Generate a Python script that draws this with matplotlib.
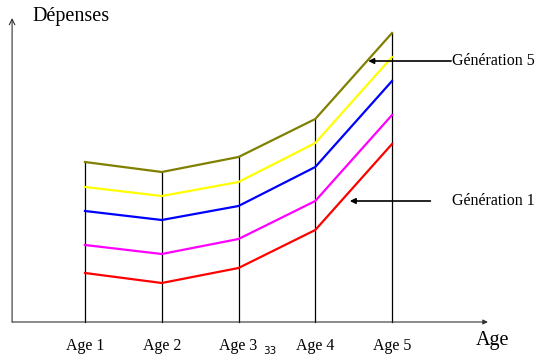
import matplotlib.pyplot as plt

# ==========================================================
# DATA (Dépenses by age, one series per generation)
# ==========================================================

ages = [1, 2, 3, 4, 5]
age_labels = ["Age 1", "Age 2", "Age 3", "Age 4", "Age 5"]

gen1 = [49, 39, 54, 92, 178]
gen2 = [77, 68, 83, 121, 207]
gen3 = [111, 102, 116, 155, 241]
gen4 = [135, 126, 140, 179, 265]
gen5 = [160, 150, 165, 203, 289]

series = [gen1, gen2, gen3, gen4, gen5]
colors = ["#ff0000", "#ff00ff", "#0000ff", "#ffff00", "#808000"]

# ==========================================================
# FIGURE
# ==========================================================

plt.rcParams["font.family"] = ["Liberation Serif", "DejaVu Serif"]

fig = plt.figure(figsize=(5.39, 3.56), dpi=100)
ax = fig.add_axes([0, 0, 1, 1])
ax.set_xlim(-0.1075, 6.915)
ax.set_ylim(-34, 322)
ax.axis("off")

x0 = 0.05  # where the Dépenses axis sits

# axes with arrows
ax.annotate("", xy=(x0, 304), xytext=(x0, 0),
            arrowprops=dict(arrowstyle="->", lw=0.8, color="#333333",
                            shrinkA=0, shrinkB=0))
ax.annotate("", xy=(6.25, 0), xytext=(x0, 0),
            arrowprops=dict(arrowstyle="-|>", lw=0.8, color="#333333",
                            mutation_scale=7, shrinkA=0, shrinkB=0))

# vertical guides up to the top curve
for x, top in zip(ages, gen5):
    ax.plot([x, x], [0, top], color="black", lw=0.9)

for vals, c in zip(series, colors):
    ax.plot(ages, vals, color=c, lw=1.6)

# labels
for x, lab in zip(ages, age_labels):
    ax.text(x, -24, lab, ha="center", va="center", fontsize=11.5)

ax.text(0.31, 305, "Dépenses", ha="left", va="center", fontsize=14.5)
ax.text(6.09, -19, "Age", ha="left", va="center", fontsize=14.5)
ax.text(3.41, -29, "33", ha="center", va="center", fontsize=7.5,
        family="DejaVu Sans")

# generation annotations
ax.annotate("", xy=(4.69, 261), xytext=(5.77, 261),
            arrowprops=dict(arrowstyle="-|>", lw=1.2, color="black",
                            mutation_scale=8, shrinkA=0, shrinkB=0))
ax.text(5.78, 261, "Génération 5", ha="left", va="center", fontsize=11.5)

ax.annotate("", xy=(4.45, 121), xytext=(5.50, 121),
            arrowprops=dict(arrowstyle="-|>", lw=1.2, color="black",
                            mutation_scale=8, shrinkA=0, shrinkB=0))
ax.text(5.78, 121, "Génération 1", ha="left", va="center", fontsize=11.5)

fig.savefig("out.png", dpi=100)
